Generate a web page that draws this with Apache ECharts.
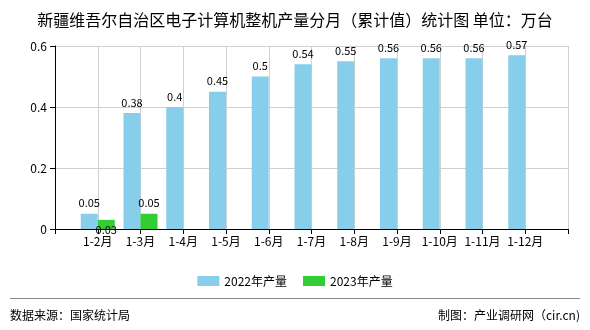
<!DOCTYPE html>
<html><head><meta charset="utf-8">
<script src="https://cdn.jsdelivr.net/npm/echarts@6/dist/echarts.min.js"></script>
<style>html,body{margin:0;padding:0;background:#fff}#c{width:590px;height:330px}</style>
</head><body><div id="c"></div>
<script>
const categories = ['', '1-2月', '1-3月', '1-4月', '1-5月', '1-6月', '1-7月', '1-8月', '1-9月', '1-10月', '1-11月', '1-12月', ''];
const values2022 = ['-', 0.05, 0.38, 0.4, 0.45, 0.5, 0.54, 0.55, 0.56, 0.56, 0.56, 0.57, '-'];
const values2023 = ['-', 0.03, 0.05, '-', '-', '-', '-', '-', '-', '-', '-', '-', '-'];
const seriesNames = ['2022年产量', '2023年产量'];
const yTicks = [0, 0.2, 0.4, 0.6];

const FONT = '"Noto Sans CJK SC", "DejaVu Sans", sans-serif';
const chart = echarts.init(document.getElementById('c'), null, {renderer: 'canvas'});

const d2023 = values2023.map((v, i) => i === 1 ? {value: v, label: {offset: [0, 20]}} : v);

chart.setOption({
  animation: false,
  textStyle: {fontFamily: FONT},
  title: {
    text: '新疆维吾尔自治区电子计算机整机产量分月（累计值）统计图 单位：万台',
    left: 'center', top: 7,
    textStyle: {fontSize: 16, fontWeight: 'normal', color: '#000', fontFamily: FONT}
  },
  legend: {
    data: seriesNames,
    left: 'center', top: 270,
    itemWidth: 22, itemHeight: 10, itemGap: 16,
    icon: 'rect',
    textStyle: {fontSize: 12, color: '#000', fontFamily: FONT}
  },
  grid: {left: 55, right: 22, top: 46, bottom: 101, containLabel: false},
  xAxis: {
    type: 'category',
    data: categories,
    boundaryGap: false,
    axisLine: {lineStyle: {color: '#000'}},
    axisTick: {show: true, length: 5, interval: 0, lineStyle: {color: '#000'}},
    axisLabel: {interval: 0, color: '#000', fontSize: 12, margin: 6, fontFamily: FONT},
    splitLine: {show: true, interval: 0, lineStyle: {color: '#d0d0d0'}}
  },
  yAxis: {
    type: 'value',
    min: yTicks[0], max: yTicks[yTicks.length - 1], interval: 0.2,
    axisLine: {show: true, lineStyle: {color: '#000'}},
    axisTick: {show: true, length: 5, lineStyle: {color: '#000'}},
    axisLabel: {color: '#000', fontSize: 12, margin: 8, fontFamily: FONT},
    splitLine: {show: true, lineStyle: {color: '#d0d0d0'}}
  },
  series: [
    {
      name: seriesNames[0], type: 'bar', data: values2022,
      barWidth: 17, barGap: '0%',
      itemStyle: {color: '#87CEEB'},
      label: {show: true, position: 'top', distance: 5, color: '#000', fontSize: 11, fontFamily: FONT}
    },
    {
      name: seriesNames[1], type: 'bar', data: d2023,
      barWidth: 17, barGap: '0%',
      itemStyle: {color: '#32CD32'},
      label: {show: true, position: 'top', distance: 5, color: '#000', fontSize: 11, fontFamily: FONT}
    }
  ],
  graphic: [
    {type: 'line', shape: {x1: 10, y1: 298.5, x2: 580, y2: 298.5}, style: {stroke: '#888', lineWidth: 1}},
    {type: 'text', left: 10, top: 309, style: {text: '数据来源：国家统计局', fontSize: 12, fill: '#000', fontFamily: FONT}},
    {type: 'text', right: 10, top: 309, style: {text: '制图：产业调研网（cir.cn)', fontSize: 12, fill: '#000', fontFamily: FONT}}
  ]
});
</script></body></html>
